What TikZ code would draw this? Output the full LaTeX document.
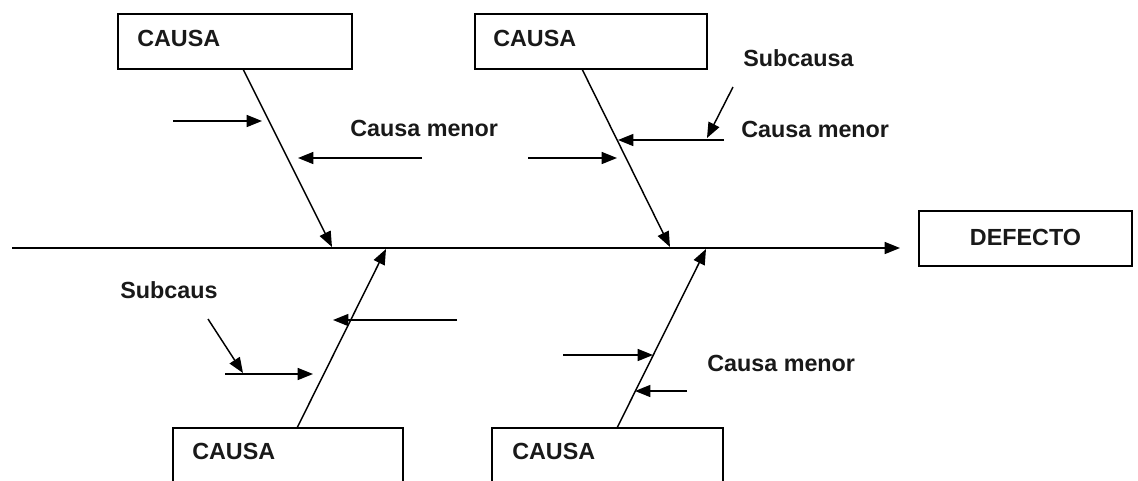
\documentclass[tikz,border=0pt]{standalone}
\usepackage{fontspec}
\setmainfont{Liberation Sans}
\usetikzlibrary{arrows.meta}
\tikzset{
  box/.style={draw=black, line width=1.1pt, fill=none, inner sep=0pt},
  lbl/.style={anchor=west, inner sep=0pt, font=\fontsize{17.5}{21}\selectfont\bfseries, text=black!90},
  ctr/.style={anchor=center, inner sep=0pt, font=\fontsize{17.5}{21}\selectfont\bfseries, text=black!90},
  arr/.style={line width=1.1pt, -{Triangle[length=11.5pt,width=9pt]}},
  ln/.style={line width=1.1pt}
}
\begin{document}
\begin{tikzpicture}[x=0.75pt,y=-0.75pt]
\useasboundingbox (0,0) rectangle (1138,480);
\clip (0,0) rectangle (1138,480);
% boxes
\node[box, minimum width=175.5pt, minimum height=41.25pt] (c1) at (235,41.5) {};
\node[box, minimum width=174pt, minimum height=41.25pt] (c2) at (591,41.5) {};
\node[box, minimum width=172.5pt, minimum height=42pt] (c3) at (288,456) {};
\node[box, minimum width=173.25pt, minimum height=42pt] (c4) at (607.5,456) {};
\node[box, minimum width=159.75pt, minimum height=41.25pt] (def) at (1025.5,238.5) {};
% texts
\node[lbl] (t1) at (137,38) {CAUSA};
\node[lbl] (t2) at (493,38) {CAUSA};
\node[lbl] (t3) at (192,451) {CAUSA};
\node[lbl] (t4) at (512,451) {CAUSA};
\node[ctr] (t5) at (1025.5,237) {DEFECTO};
\node[lbl] (m1) at (350,128.5) {Causa menor};
\node[lbl] (s1) at (743,58) {Subcausa};
\node[lbl] (m2) at (741,129) {Causa menor};
\node[lbl] (s2) at (120,290) {Subcaus};
\node[lbl] (m3) at (707,363.5) {Causa menor};
% spine
\coordinate (sp0) at (12,248);
\coordinate (sp1) at (900,248);
\draw[arr] (sp0) -- (sp1);
% bones
\coordinate (b1s) at (243,69);  \coordinate (b1e) at (332,247);
\coordinate (b2s) at (582,69);  \coordinate (b2e) at (670,247);
\coordinate (b3s) at (297,428); \coordinate (b3e) at (386,249);
\coordinate (b4s) at (617,428); \coordinate (b4e) at (706,249);
\draw[arr] (b1s) -- (b1e);
\draw[arr] (b2s) -- (b2e);
\draw[arr] (b3s) -- (b3e);
\draw[arr] (b4s) -- (b4e);
% minor causes, top-left bone
\coordinate (a1s) at (173,121); \coordinate (a1e) at (262,121);
\coordinate (a2s) at (422,158); \coordinate (a2e) at (298,158);
\draw[arr] (a1s) -- (a1e);
\draw[arr] (a2s) -- (a2e);
% top-middle bone
\coordinate (a3s) at (724,140); \coordinate (a3e) at (618,140);
\coordinate (a4s) at (528,158); \coordinate (a4e) at (617,158);
\coordinate (a5s) at (733,87);  \coordinate (a5e) at (707,138);
\draw[arr] (a3s) -- (a3e);
\draw[arr] (a4s) -- (a4e);
\draw[arr] (a5s) -- (a5e);
% bottom-left bone
\coordinate (a6s) at (457,320); \coordinate (a6e) at (333,320);
\coordinate (a7s) at (225,374); \coordinate (a7e) at (313,374);
\coordinate (a8s) at (208,319); \coordinate (a8e) at (243,373);
\draw[arr] (a6s) -- (a6e);
\draw[arr] (a7s) -- (a7e);
\draw[arr] (a8s) -- (a8e);
% bottom-right bone
\coordinate (a9s) at (563,355); \coordinate (a9e) at (653,355);
\coordinate (a10s) at (687,391); \coordinate (a10e) at (635,391);
\draw[arr] (a9s) -- (a9e);
\draw[arr] (a10s) -- (a10e);
\end{tikzpicture}
\end{document}
